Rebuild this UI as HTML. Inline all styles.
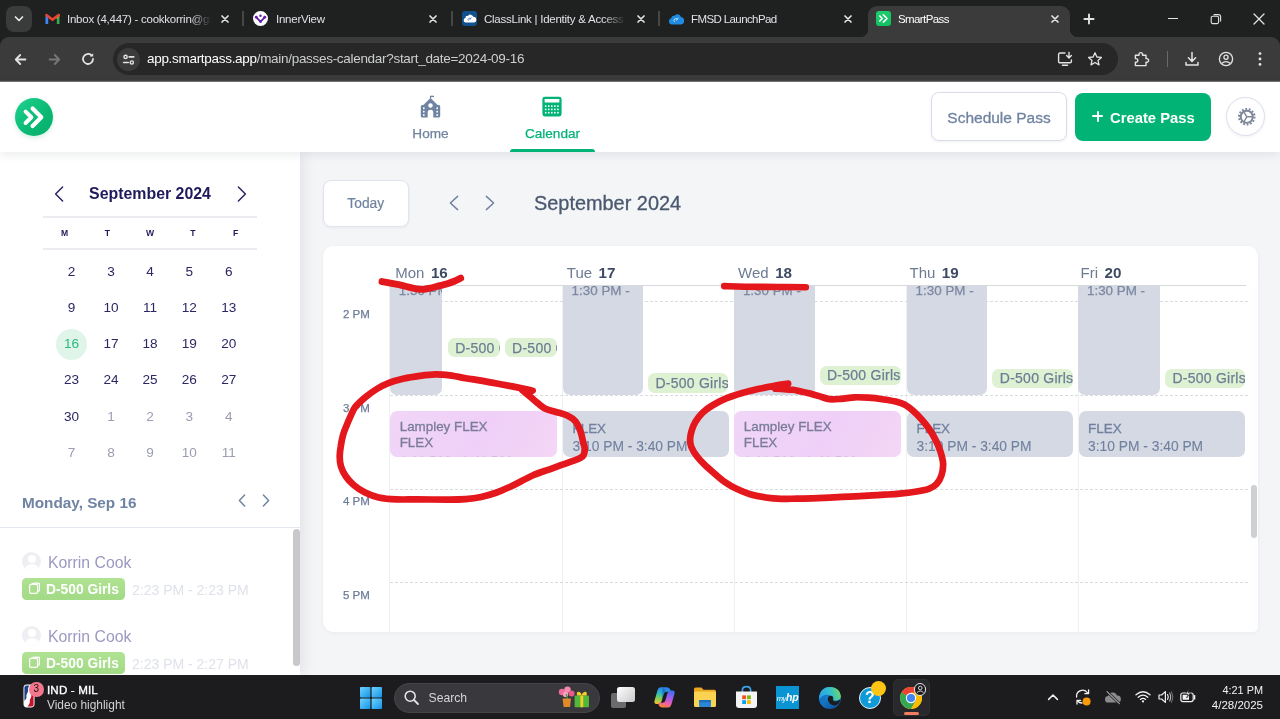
<!DOCTYPE html>
<html lang="en">
<head>
<meta charset="utf-8">
<title>SmartPass</title>
<style>
*{box-sizing:border-box;margin:0;padding:0}
html,body{width:1280px;height:719px;overflow:hidden;background:#f4f5f7;font-family:"Liberation Sans",sans-serif;}
.abs{position:absolute}
#root{position:relative;width:1280px;height:719px;overflow:hidden;will-change:transform;opacity:.9999}
/* ---------- browser chrome ---------- */
#tabbar{left:0;top:0;width:1280px;height:52px;background:#1f2020}
#toolbar{left:0;top:37px;width:1280px;height:44px;background:#3b3b3b;border-radius:9px 9px 0 0}
#urlpill{left:113px;top:43px;width:1005px;height:32px;border-radius:16px;background:#272727}
.tabtxt{color:#dfe1e5;font-size:11.5px;top:13px;white-space:nowrap;letter-spacing:-0.25px}
.url{color:#ffffff;font-size:13.5px;left:147px;top:51px;white-space:nowrap;letter-spacing:-0.3px}
.url span{color:#cdcfce}
/* ---------- app ---------- */
#apphead{left:0;top:81px;width:1280px;height:71px;background:#fff;box-shadow:0 2px 10px rgba(30,40,60,.10);z-index:5}
#sidebar{left:0;top:152px;width:300px;height:523px;background:#fff;box-shadow:2px 0 14px rgba(30,40,60,.10);z-index:3}
#main{left:300px;top:152px;width:980px;height:523px;background:#f4f5f7}
#taskbar{left:0;top:675px;width:1280px;height:44px;background:#1c1c1f;z-index:20}
</style>
</head>
<body>
<div id="root">

<!-- ======= BROWSER CHROME ======= -->
<div id="tabbar" class="abs"></div>
<div id="toolbar" class="abs"></div>
<div id="urlpill" class="abs"></div>
<!-- tab search button -->
<div class="abs" style="left:6px;top:6px;width:26px;height:26px;border-radius:8px;background:#3a3b3b"></div>
<svg class="abs" style="left:13px;top:14px" width="12" height="10" viewBox="0 0 12 10"><path d="M2.5 3 L6 6.5 L9.5 3" fill="none" stroke="#e8eaed" stroke-width="1.7" stroke-linecap="round" stroke-linejoin="round"/></svg>

<!-- tab 1: Gmail -->
<svg class="abs" style="left:45px;top:13px" width="15" height="12" viewBox="0 0 15 12">
  <path d="M0.5 1.2 V11 H3.2 V4.6 Z" fill="#4285f4"/>
  <path d="M14.5 1.2 V11 H11.8 V4.6 Z" fill="#34a853"/>
  <path d="M11.8 4.6 L14.5 1.2 V3 L11.8 6.2Z" fill="#fbbc04"/>
  <path d="M0.5 1.2 L1.6 0.4 L7.5 5 L13.4 0.4 L14.5 1.2 V2.9 L7.5 8.3 L0.5 2.9 Z" fill="#ea4335"/>
</svg>
<div class="abs tabtxt" style="left:67px;width:144px;overflow:hidden;-webkit-mask-image:linear-gradient(90deg,#000 86%,transparent 100%);mask-image:linear-gradient(90deg,#000 86%,transparent 100%)">Inbox (4,447) - cookkorrin@gmail.com</div>
<svg class="abs tabx" style="left:220px;top:14px" width="10" height="10" viewBox="0 0 10 10"><path d="M2 2 L8 8 M8 2 L2 8" stroke="#e3e3e3" stroke-width="1.7" stroke-linecap="round"/></svg>
<div class="abs" style="left:242px;top:11px;width:1.6px;height:15px;background:#474747"></div>

<!-- tab 2: InnerView -->
<div class="abs" style="left:253px;top:11px;width:15px;height:15px;border-radius:50%;background:#fff"></div>
<svg class="abs" style="left:253px;top:11px" width="15" height="15" viewBox="0 0 15 15"><path d="M3.3 6.3 L7.5 10.6 L11.7 6.3" fill="none" stroke="#5b1a9c" stroke-width="1.7" stroke-linejoin="round"/><circle cx="7.5" cy="4.8" r="1.25" fill="#6a1fae"/><circle cx="3.3" cy="6.3" r="1.45" fill="#6a1fae"/><circle cx="11.7" cy="6.3" r="1.45" fill="#6a1fae"/><circle cx="7.5" cy="10.6" r="1.45" fill="#6a1fae"/></svg>
<div class="abs tabtxt" style="left:276px">InnerView</div>
<svg class="abs tabx" style="left:428px;top:14px" width="10" height="10" viewBox="0 0 10 10"><path d="M2 2 L8 8 M8 2 L2 8" stroke="#e3e3e3" stroke-width="1.7" stroke-linecap="round"/></svg>
<div class="abs" style="left:451px;top:11px;width:1.6px;height:15px;background:#474747"></div>

<!-- tab 3: ClassLink -->
<div class="abs" style="left:461.5px;top:11px;width:15px;height:15px;border-radius:3px;background:#10518f"></div>
<svg class="abs" style="left:461.5px;top:11px" width="15" height="15" viewBox="0 0 15 15"><path d="M3.6 11.6 a2.3 2.3 0 0 1 -0.2 -4.5 a2.2 2.2 0 0 1 2.6 -2.2 a2.9 2.9 0 0 1 5.2 0.9 a2.9 2.9 0 0 1 0.4 5.8 Z" fill="#fff"/><path d="M6.4 9.6 a1.5 1.5 0 1 1 2.4 -1.8 M7.6 8.8 L9.4 6.6" fill="none" stroke="#2f6db0" stroke-width="0.8"/></svg>
<div class="abs tabtxt" style="left:484px;width:142px;overflow:hidden;-webkit-mask-image:linear-gradient(90deg,#000 84%,transparent 100%);mask-image:linear-gradient(90deg,#000 84%,transparent 100%)">ClassLink | Identity &amp; Access Management</div>
<svg class="abs tabx" style="left:636px;top:14px" width="10" height="10" viewBox="0 0 10 10"><path d="M2 2 L8 8 M8 2 L2 8" stroke="#e3e3e3" stroke-width="1.7" stroke-linecap="round"/></svg>
<div class="abs" style="left:658px;top:11px;width:1.6px;height:15px;background:#474747"></div>

<!-- tab 4: FMSD -->
<svg class="abs" style="left:668px;top:12px" width="16" height="13" viewBox="0 0 16 13"><path d="M3.6 12.4 a3.1 3.1 0 0 1 -0.3 -6.1 a2.6 2.6 0 0 1 3.1 -2.5 a3.7 3.7 0 0 1 6.6 1.3 a3.7 3.7 0 0 1 0.2 7.3 Z" fill="#1f8ce2"/><path d="M6.4 9.8 a2 2 0 1 1 3.2 -2.4 M8.2 8.6 L10.4 5.8" fill="none" stroke="#d6ebfb" stroke-width="0.9"/></svg>
<div class="abs tabtxt" style="left:691px;letter-spacing:-0.6px">FMSD LaunchPad</div>
<svg class="abs tabx" style="left:843px;top:14px" width="10" height="10" viewBox="0 0 10 10"><path d="M2 2 L8 8 M8 2 L2 8" stroke="#e3e3e3" stroke-width="1.7" stroke-linecap="round"/></svg>

<!-- tab 5 (active): SmartPass -->
<div class="abs" style="left:868px;top:5.5px;width:202px;height:33px;border-radius:9px 9px 0 0;background:#3b3b3b"></div>
<div class="abs" style="left:860px;top:29px;width:8px;height:8px;background:radial-gradient(circle at 0 0,transparent 8px,#3b3b3b 8.5px)"></div>
<div class="abs" style="left:1070px;top:29px;width:8px;height:8px;background:radial-gradient(circle at 100% 0,transparent 8px,#3b3b3b 8.5px)"></div>
<div class="abs" style="left:876px;top:11px;width:15px;height:15px;border-radius:3px;background:linear-gradient(160deg,#1fd071,#0dbd5f)"></div>
<svg class="abs" style="left:876px;top:11px" width="15" height="15" viewBox="0 0 15 15"><path d="M3.8 5 L6.2 7.5 L3.8 10 M7.4 3.9 L11 7.5 L7.4 11.1" fill="none" stroke="#fff" stroke-width="1.7" stroke-linecap="round" stroke-linejoin="round"/></svg>
<div class="abs tabtxt" style="left:898px;color:#fff;letter-spacing:-0.6px">SmartPass</div>
<svg class="abs tabx" style="left:1050px;top:14px" width="10" height="10" viewBox="0 0 10 10"><path d="M2 2 L8 8 M8 2 L2 8" stroke="#e3e3e3" stroke-width="1.7" stroke-linecap="round"/></svg>

<!-- new tab + window controls -->
<svg class="abs" style="left:1083px;top:13px" width="12" height="12" viewBox="0 0 12 12"><path d="M6 1.4 V10.6 M1.4 6 H10.6" stroke="#e3e3e3" stroke-width="1.9" stroke-linecap="round"/></svg>
<div class="abs" style="left:1168px;top:18px;width:10px;height:1.4px;background:#e3e3e3"></div>
<svg class="abs" style="left:1210px;top:13px" width="12" height="12" viewBox="0 0 12 12"><rect x="1.2" y="3.2" width="7.4" height="7.4" rx="1.6" fill="none" stroke="#e3e3e3" stroke-width="1.1"/><path d="M3.6 1.6 H8.6 A2 2 0 0 1 10.6 3.6 V8.6" fill="none" stroke="#e3e3e3" stroke-width="1.1"/></svg>
<svg class="abs" style="left:1253px;top:13px" width="12" height="12" viewBox="0 0 12 12"><path d="M1 1 L11 11 M11 1 L1 11" stroke="#e3e3e3" stroke-width="1.3" stroke-linecap="round"/></svg>

<!-- toolbar: nav icons -->
<svg class="abs" style="left:13px;top:51.5px" width="15" height="15" viewBox="0 0 15 15"><path d="M12.4 7.5 H3 M7.2 3 L2.8 7.5 L7.2 12" fill="none" stroke="#e3e3e3" stroke-width="1.8" stroke-linecap="round" stroke-linejoin="round"/></svg>
<svg class="abs" style="left:47px;top:51.5px" width="15" height="15" viewBox="0 0 15 15"><path d="M2.6 7.5 H12 M7.8 3 L12.2 7.5 L7.8 12" fill="none" stroke="#777" stroke-width="1.8" stroke-linecap="round" stroke-linejoin="round"/></svg>
<svg class="abs" style="left:80px;top:51px" width="16" height="16" viewBox="0 0 16 16"><path d="M13 8 A5 5 0 1 1 11.3 4.2" fill="none" stroke="#e3e3e3" stroke-width="1.8" stroke-linecap="round"/><path d="M13.2 2.2 V5.6 H9.8 Z" fill="#e3e3e3"/></svg>
<!-- site info chip -->
<div class="abs" style="left:117px;top:48px;width:23px;height:23px;border-radius:50%;background:#3b3b3b"></div>
<svg class="abs" style="left:122px;top:52.5px" width="13.4" height="13.4" viewBox="0 0 15 15"><circle cx="4" cy="4.4" r="1.8" fill="none" stroke="#e3e3e3" stroke-width="1.6"/><path d="M8 4.4 H13.2" stroke="#e3e3e3" stroke-width="1.8" stroke-linecap="round"/><circle cx="11" cy="10.6" r="1.8" fill="none" stroke="#e3e3e3" stroke-width="1.6"/><path d="M1.8 10.6 H7" stroke="#e3e3e3" stroke-width="1.8" stroke-linecap="round"/></svg>
<div class="abs url">app.smartpass.app<span>/main/passes-calendar?start_date=2024-09-16</span></div>

<!-- toolbar: right icons -->
<svg class="abs" style="left:1057px;top:51px" width="17" height="16" viewBox="0 0 17 16"><path d="M8 2 H3 A1.4 1.4 0 0 0 1.6 3.4 V10.4 A1.4 1.4 0 0 0 3 11.8 H13 A1.4 1.4 0 0 0 14.4 10.4 V9" fill="none" stroke="#e3e3e3" stroke-width="1.4" stroke-linecap="round"/><path d="M5.4 14.2 H10.6" stroke="#e3e3e3" stroke-width="1.4" stroke-linecap="round"/><path d="M12 1.4 V6.6 M9.6 4.6 L12 7 L14.4 4.6" fill="none" stroke="#e3e3e3" stroke-width="1.4" stroke-linecap="round" stroke-linejoin="round"/></svg>
<svg class="abs" style="left:1087px;top:51px" width="16" height="16" viewBox="0 0 16 16"><path d="M8 1.8 L9.9 6 L14.4 6.4 L11 9.4 L12 13.9 L8 11.5 L4 13.9 L5 9.4 L1.6 6.4 L6.1 6 Z" fill="none" stroke="#e3e3e3" stroke-width="1.3" stroke-linejoin="round"/></svg>
<svg class="abs" style="left:1133px;top:50px" width="17" height="18" viewBox="0 0 17 18"><path d="M2.4 5.2 H6 V4.4 A1.8 1.8 0 1 1 9.6 4.4 V5.2 H13 V8.6 H13.8 A1.8 1.8 0 1 1 13.8 12.2 H13 V15.6 H2.4 V12.2 H3 A1.8 1.8 0 1 0 3 8.6 H2.4 Z" fill="none" stroke="#e3e3e3" stroke-width="1.4" stroke-linejoin="round"/></svg>
<div class="abs" style="left:1167px;top:51px;width:1px;height:16px;background:#6a6a6a"></div>
<svg class="abs" style="left:1184px;top:51px" width="16" height="16" viewBox="0 0 16 16"><path d="M8 1.6 V10 M4.4 6.8 L8 10.4 L11.6 6.8" fill="none" stroke="#e3e3e3" stroke-width="1.5" stroke-linecap="round" stroke-linejoin="round"/><path d="M2 11.4 V14 H14 V11.4" fill="none" stroke="#e3e3e3" stroke-width="1.5" stroke-linecap="round" stroke-linejoin="round"/></svg>
<svg class="abs" style="left:1218px;top:51px" width="16" height="16" viewBox="0 0 16 16"><circle cx="8" cy="8" r="6.6" fill="none" stroke="#e3e3e3" stroke-width="1.3"/><circle cx="8" cy="6.3" r="2.1" fill="none" stroke="#e3e3e3" stroke-width="1.3"/><path d="M3.6 12.6 Q8 8.6 12.4 12.6" fill="none" stroke="#e3e3e3" stroke-width="1.3"/></svg>
<svg class="abs" style="left:1257px;top:51px" width="6" height="16" viewBox="0 0 6 16"><circle cx="3" cy="2.6" r="1.4" fill="#e3e3e3"/><circle cx="3" cy="8" r="1.4" fill="#e3e3e3"/><circle cx="3" cy="13.4" r="1.4" fill="#e3e3e3"/></svg>
<!--CHROME-->

<!-- ======= APP ======= -->
<div id="main" class="abs"></div>
<div id="sidebar" class="abs"></div>
<div id="apphead" class="abs"></div>
<div class="abs" style="left:0;top:80px;width:1280px;height:2px;background:linear-gradient(#2a2a2a,#8a8a8a);z-index:6"></div>
<!-- logo -->
<div class="abs" style="left:15px;top:98px;width:38px;height:38px;border-radius:50%;background:linear-gradient(135deg,#1ed38e 0%,#0ab873 60%,#06b06c 100%);box-shadow:0 2px 5px rgba(0,160,100,.18);z-index:7"></div>
<svg class="abs" style="left:15px;top:98px;z-index:8" width="38" height="38" viewBox="0 0 38 38"><path d="M10.6 13.6 L16.4 19.3 L10.6 25" fill="none" stroke="#fff" stroke-width="4" stroke-linecap="round" stroke-linejoin="round"/><path d="M17.6 10.6 L26.3 19.3 L17.6 28" fill="none" stroke="#fff" stroke-width="4.2" stroke-linecap="round" stroke-linejoin="round"/></svg>

<!-- nav: Home -->
<svg class="abs" style="left:420px;top:95px;z-index:8" width="21" height="24" viewBox="0 0 21 24">
  <path d="M10.5 0.9 V4.4" stroke="#7083a0" stroke-width="1.1"/><path d="M10.5 0.7 H14 V2.1 H10.5Z" fill="#7083a0"/>
  <path d="M10.5 3.3 L17.9 10.6 H3.1 Z" fill="#7083a0" stroke="#7083a0" stroke-width="0.6" stroke-linejoin="round"/>
  <path d="M0.8 11.4 Q0.8 9.9 2.3 9.9 H18.7 Q20.2 9.9 20.2 11.4 V21.2 Q20.2 22.6 18.8 22.6 H13.3 V17.6 A2.8 2.8 0 0 0 7.7 17.6 V22.6 H2.2 Q0.8 22.6 0.8 21.2 Z" fill="#7083a0"/>
  <circle cx="10.5" cy="10.4" r="2.25" fill="#fff"/>
  <rect x="3" y="12.4" width="1.6" height="1.7" fill="#fff"/><rect x="3" y="15.8" width="1.6" height="1.7" fill="#fff"/><rect x="3" y="19.2" width="1.6" height="1.7" fill="#fff"/>
  <rect x="16.4" y="12.4" width="1.6" height="1.7" fill="#fff"/><rect x="16.4" y="15.8" width="1.6" height="1.7" fill="#fff"/><rect x="16.4" y="19.2" width="1.6" height="1.7" fill="#fff"/>
</svg>
<div class="abs" style="left:400px;top:126px;width:61px;text-align:center;font-size:13.6px;color:#7083a0;z-index:8;-webkit-text-stroke:0.25px #7083a0">Home</div>
<!-- nav: Calendar -->
<svg class="abs" style="left:542px;top:96px;z-index:8" width="20" height="21" viewBox="0 0 20 21">
  <rect x="0.4" y="0.8" width="19.2" height="19.6" rx="2.4" fill="#00b476"/>
  <rect x="2.6" y="3" width="14.8" height="3.4" rx="0.6" fill="#fff"/>
  <g fill="#fff"><rect x="2.90" y="9.30" width="1.6" height="1.6"/><rect x="5.95" y="9.30" width="1.6" height="1.6"/><rect x="9.00" y="9.30" width="1.6" height="1.6"/><rect x="12.05" y="9.30" width="1.6" height="1.6"/><rect x="15.10" y="9.30" width="1.6" height="1.6"/><rect x="2.90" y="12.60" width="1.6" height="1.6"/><rect x="5.95" y="12.60" width="1.6" height="1.6"/><rect x="9.00" y="12.60" width="1.6" height="1.6"/><rect x="12.05" y="12.60" width="1.6" height="1.6"/><rect x="15.10" y="12.60" width="1.6" height="1.6"/><rect x="2.90" y="15.90" width="1.6" height="1.6"/><rect x="5.95" y="15.90" width="1.6" height="1.6"/><rect x="9.00" y="15.90" width="1.6" height="1.6"/><rect x="12.05" y="15.90" width="1.6" height="1.6"/><rect x="15.10" y="15.90" width="1.6" height="1.6"/></g>
</svg>
<div class="abs" style="left:512px;top:126px;width:81px;text-align:center;font-size:13.6px;color:#00b476;z-index:8;-webkit-text-stroke:0.25px #00b476">Calendar</div>
<div class="abs" style="left:510px;top:149px;width:85px;height:3px;border-radius:3px 3px 0 0;background:#00b476;z-index:8"></div>

<!-- buttons -->
<div class="abs" style="left:931px;top:92px;width:136px;height:49px;border-radius:8px;background:#fff;border:1px solid #d9dcea;box-shadow:0 1px 3px rgba(40,50,90,.08);z-index:8;color:#7083a0;font-size:15.5px;line-height:49px;text-align:center;-webkit-text-stroke:0.3px #7083a0">Schedule Pass</div>
<div class="abs" style="left:1075px;top:93px;width:136px;height:48px;border-radius:8px;background:#00b476;z-index:8;color:#fff;font-size:14.8px;font-weight:700;line-height:50px;white-space:nowrap"><span style="position:absolute;left:17.2px;top:22.4px;width:11px;height:2px;background:#fff;border-radius:1px"></span><span style="position:absolute;left:21.7px;top:17.9px;width:2px;height:11px;background:#fff;border-radius:1px"></span><span style="position:absolute;left:35px">Create Pass</span></div>
<div class="abs" style="left:1226px;top:97px;width:39px;height:39px;border-radius:50%;background:#fff;border:1px solid #dcdfeb;box-shadow:0 1px 3px rgba(40,50,90,.08);z-index:8"></div>
<svg class="abs" style="left:1236.6px;top:107.1px;z-index:9" width="19.6" height="19.6" viewBox="0 0 21 21">
  <circle cx="10.5" cy="10.5" r="8.3" fill="none" stroke="#7e8699" stroke-width="2.2" stroke-dasharray="1.95 1.775"/>
  <circle cx="10.5" cy="10.5" r="6.5" fill="#fff" stroke="#7e8699" stroke-width="2.1"/>
  <path d="M10.5 10.5 L16.40 10.50 M10.5 10.5 L7.55 15.61 M10.5 10.5 L7.55 5.39 " stroke="#7e8699" stroke-width="1.5" fill="none"/>
</svg>
<!--HEADER-->
<!-- mini calendar -->
<svg class="abs" style="left:53px;top:185px;z-index:4" width="12" height="18" viewBox="0 0 12 18"><path d="M9.6 2 L2.6 9 L9.6 16" fill="none" stroke="#2a2560" stroke-width="1.5" stroke-linecap="round" stroke-linejoin="round"/></svg>
<svg class="abs" style="left:236px;top:185px;z-index:4" width="12" height="18" viewBox="0 0 12 18"><path d="M2.4 2 L9.4 9 L2.4 16" fill="none" stroke="#2a2560" stroke-width="1.5" stroke-linecap="round" stroke-linejoin="round"/></svg>
<div class="abs" style="left:50px;top:184px;width:200px;text-align:center;font-size:15.9px;font-weight:700;color:#1f1a5c;z-index:4;line-height:19px">September 2024</div>
<div class="abs" style="left:43px;top:216px;width:214px;height:1.6px;background:#ececf0;z-index:4"></div>
<div class="abs" style="left:43px;top:248px;width:214px;height:1.6px;background:#ececf0;z-index:4"></div>
<div class="abs" style="left:54.70px;top:227px;width:20px;text-align:center;font-size:8.6px;font-weight:700;color:#1f1a5c;z-index:4;line-height:12px">M</div>
<div class="abs" style="left:97.25px;top:227px;width:20px;text-align:center;font-size:8.6px;font-weight:700;color:#1f1a5c;z-index:4;line-height:12px">T</div>
<div class="abs" style="left:140.00px;top:227px;width:20px;text-align:center;font-size:8.6px;font-weight:700;color:#1f1a5c;z-index:4;line-height:12px">W</div>
<div class="abs" style="left:182.75px;top:227px;width:20px;text-align:center;font-size:8.6px;font-weight:700;color:#1f1a5c;z-index:4;line-height:12px">T</div>
<div class="abs" style="left:225.70px;top:227px;width:20px;text-align:center;font-size:8.6px;font-weight:700;color:#1f1a5c;z-index:4;line-height:12px">F</div>
<div class="abs" style="left:56px;top:328.5px;width:31px;height:31px;border-radius:50%;background:#dff5ea;z-index:4"></div>
<div class="abs" style="left:56.60px;top:262.8px;width:30px;text-align:center;font-size:13.6px;color:#2b2764;z-index:4;line-height:18px">2</div>
<div class="abs" style="left:96.00px;top:262.8px;width:30px;text-align:center;font-size:13.6px;color:#2b2764;z-index:4;line-height:18px">3</div>
<div class="abs" style="left:135.00px;top:262.8px;width:30px;text-align:center;font-size:13.6px;color:#2b2764;z-index:4;line-height:18px">4</div>
<div class="abs" style="left:174.20px;top:262.8px;width:30px;text-align:center;font-size:13.6px;color:#2b2764;z-index:4;line-height:18px">5</div>
<div class="abs" style="left:213.75px;top:262.8px;width:30px;text-align:center;font-size:13.6px;color:#2b2764;z-index:4;line-height:18px">6</div>
<div class="abs" style="left:56.60px;top:299.2px;width:30px;text-align:center;font-size:13.6px;color:#2b2764;z-index:4;line-height:18px">9</div>
<div class="abs" style="left:96.00px;top:299.2px;width:30px;text-align:center;font-size:13.6px;color:#2b2764;z-index:4;line-height:18px">10</div>
<div class="abs" style="left:135.00px;top:299.2px;width:30px;text-align:center;font-size:13.6px;color:#2b2764;z-index:4;line-height:18px">11</div>
<div class="abs" style="left:174.20px;top:299.2px;width:30px;text-align:center;font-size:13.6px;color:#2b2764;z-index:4;line-height:18px">12</div>
<div class="abs" style="left:213.75px;top:299.2px;width:30px;text-align:center;font-size:13.6px;color:#2b2764;z-index:4;line-height:18px">13</div>
<div class="abs" style="left:56.60px;top:334.8px;width:30px;text-align:center;font-size:13.6px;color:#2bb77f;z-index:4;line-height:18px">16</div>
<div class="abs" style="left:96.00px;top:334.8px;width:30px;text-align:center;font-size:13.6px;color:#2b2764;z-index:4;line-height:18px">17</div>
<div class="abs" style="left:135.00px;top:334.8px;width:30px;text-align:center;font-size:13.6px;color:#2b2764;z-index:4;line-height:18px">18</div>
<div class="abs" style="left:174.20px;top:334.8px;width:30px;text-align:center;font-size:13.6px;color:#2b2764;z-index:4;line-height:18px">19</div>
<div class="abs" style="left:213.75px;top:334.8px;width:30px;text-align:center;font-size:13.6px;color:#2b2764;z-index:4;line-height:18px">20</div>
<div class="abs" style="left:56.60px;top:371.3px;width:30px;text-align:center;font-size:13.6px;color:#2b2764;z-index:4;line-height:18px">23</div>
<div class="abs" style="left:96.00px;top:371.3px;width:30px;text-align:center;font-size:13.6px;color:#2b2764;z-index:4;line-height:18px">24</div>
<div class="abs" style="left:135.00px;top:371.3px;width:30px;text-align:center;font-size:13.6px;color:#2b2764;z-index:4;line-height:18px">25</div>
<div class="abs" style="left:174.20px;top:371.3px;width:30px;text-align:center;font-size:13.6px;color:#2b2764;z-index:4;line-height:18px">26</div>
<div class="abs" style="left:213.75px;top:371.3px;width:30px;text-align:center;font-size:13.6px;color:#2b2764;z-index:4;line-height:18px">27</div>
<div class="abs" style="left:56.60px;top:407.8px;width:30px;text-align:center;font-size:13.6px;color:#2b2764;z-index:4;line-height:18px">30</div>
<div class="abs" style="left:96.00px;top:407.8px;width:30px;text-align:center;font-size:13.6px;color:#9a9db3;z-index:4;line-height:18px">1</div>
<div class="abs" style="left:135.00px;top:407.8px;width:30px;text-align:center;font-size:13.6px;color:#9a9db3;z-index:4;line-height:18px">2</div>
<div class="abs" style="left:174.20px;top:407.8px;width:30px;text-align:center;font-size:13.6px;color:#9a9db3;z-index:4;line-height:18px">3</div>
<div class="abs" style="left:213.75px;top:407.8px;width:30px;text-align:center;font-size:13.6px;color:#9a9db3;z-index:4;line-height:18px">4</div>
<div class="abs" style="left:56.60px;top:443.8px;width:30px;text-align:center;font-size:13.6px;color:#9a9db3;z-index:4;line-height:18px">7</div>
<div class="abs" style="left:96.00px;top:443.8px;width:30px;text-align:center;font-size:13.6px;color:#9a9db3;z-index:4;line-height:18px">8</div>
<div class="abs" style="left:135.00px;top:443.8px;width:30px;text-align:center;font-size:13.6px;color:#9a9db3;z-index:4;line-height:18px">9</div>
<div class="abs" style="left:174.20px;top:443.8px;width:30px;text-align:center;font-size:13.6px;color:#9a9db3;z-index:4;line-height:18px">10</div>
<div class="abs" style="left:213.75px;top:443.8px;width:30px;text-align:center;font-size:13.6px;color:#9a9db3;z-index:4;line-height:18px">11</div>
<!-- day list -->
<div class="abs" style="left:22px;top:493px;font-size:15.3px;font-weight:700;color:#6f83a3;z-index:4;line-height:19px;white-space:nowrap">Monday, Sep 16</div>
<svg class="abs" style="left:237px;top:493px;z-index:4" width="10" height="15" viewBox="0 0 10 15"><path d="M7.6 2 L2.4 7.5 L7.6 13" fill="none" stroke="#7083a0" stroke-width="1.5" stroke-linecap="round" stroke-linejoin="round"/></svg>
<svg class="abs" style="left:261px;top:493px;z-index:4" width="10" height="15" viewBox="0 0 10 15"><path d="M2.4 2 L7.6 7.5 L2.4 13" fill="none" stroke="#7083a0" stroke-width="1.5" stroke-linecap="round" stroke-linejoin="round"/></svg>
<div class="abs" style="left:0;top:527px;width:300px;height:1px;background:#e1e6ef;z-index:4"></div>
<div class="abs" style="left:293px;top:529px;width:6.5px;height:137px;border-radius:4px;background:#c8c8c9;z-index:4"></div>
<div class="abs" style="left:22px;top:552px;width:19px;height:19px;border-radius:50%;background:#efeff3;z-index:4;overflow:hidden"><div style="position:absolute;left:5.5px;top:3px;width:8px;height:8px;border-radius:50%;background:#fff"></div><div style="position:absolute;left:2.5px;top:11.5px;width:14px;height:12px;border-radius:50%;background:#fff"></div></div>
<div class="abs" style="left:48px;top:553px;font-size:15.8px;color:#9b99c1;z-index:4;line-height:19px;white-space:nowrap">Korrin Cook</div>
<div class="abs" style="left:22px;top:578px;width:103px;height:22px;border-radius:4.5px;background:linear-gradient(#b0e293,#a2da85);z-index:4"></div>
<svg class="abs" style="left:28px;top:582px;z-index:4" width="13" height="13" viewBox="0 0 13 13"><rect x="1.6" y="2.4" width="8" height="9" rx="1.6" fill="none" stroke="#fff" stroke-width="1.2"/><path d="M3 2.4 Q6 0.6 11.4 1.4 V8 Q11.4 9.4 9.6 9.6" fill="none" stroke="#fff" stroke-width="1.2"/></svg>
<div class="abs" style="left:46px;top:581px;font-size:13.8px;font-weight:700;color:#fff;z-index:4;line-height:18px;white-space:nowrap">D-500 Girls</div>
<div class="abs" style="left:132px;top:581px;font-size:14px;color:#dfe2ea;z-index:4;line-height:18px;white-space:nowrap">2:23 PM - 2:23 PM</div>
<div class="abs" style="left:22px;top:626px;width:19px;height:19px;border-radius:50%;background:#efeff3;z-index:4;overflow:hidden"><div style="position:absolute;left:5.5px;top:3px;width:8px;height:8px;border-radius:50%;background:#fff"></div><div style="position:absolute;left:2.5px;top:11.5px;width:14px;height:12px;border-radius:50%;background:#fff"></div></div>
<div class="abs" style="left:48px;top:627px;font-size:15.8px;color:#9b99c1;z-index:4;line-height:19px;white-space:nowrap">Korrin Cook</div>
<div class="abs" style="left:22px;top:652px;width:103px;height:22px;border-radius:4.5px;background:linear-gradient(#b0e293,#a2da85);z-index:4"></div>
<svg class="abs" style="left:28px;top:656px;z-index:4" width="13" height="13" viewBox="0 0 13 13"><rect x="1.6" y="2.4" width="8" height="9" rx="1.6" fill="none" stroke="#fff" stroke-width="1.2"/><path d="M3 2.4 Q6 0.6 11.4 1.4 V8 Q11.4 9.4 9.6 9.6" fill="none" stroke="#fff" stroke-width="1.2"/></svg>
<div class="abs" style="left:46px;top:655px;font-size:13.8px;font-weight:700;color:#fff;z-index:4;line-height:18px;white-space:nowrap">D-500 Girls</div>
<div class="abs" style="left:132px;top:655px;font-size:14px;color:#dfe2ea;z-index:4;line-height:18px;white-space:nowrap">2:23 PM - 2:27 PM</div>
<!--SIDEBAR-->
<!-- main toolbar -->
<div class="abs" style="left:323px;top:179.5px;width:85.5px;height:47px;border-radius:8px;background:#fff;border:1px solid #e1e4ee;box-shadow:0 1px 3px rgba(40,50,90,.06);color:#7083a0;font-size:13.8px;line-height:45px;text-align:center;-webkit-text-stroke:0.2px #7083a0">Today</div>
<svg class="abs" style="left:447px;top:194px" width="14" height="18" viewBox="0 0 14 18"><path d="M10.6 2.4 L3.4 9 L10.6 15.6" fill="none" stroke="#7083a0" stroke-width="1.5" stroke-linecap="round" stroke-linejoin="round"/></svg>
<svg class="abs" style="left:483px;top:194px" width="14" height="18" viewBox="0 0 14 18"><path d="M3.4 2.4 L10.6 9 L3.4 15.6" fill="none" stroke="#7083a0" stroke-width="1.5" stroke-linecap="round" stroke-linejoin="round"/></svg>
<div class="abs" style="left:534px;top:191px;font-size:19.9px;color:#4a586f;line-height:24px;white-space:nowrap;-webkit-text-stroke:0.3px #4a586f">September 2024</div>
<!-- calendar card -->
<div class="abs" id="card" style="left:323px;top:246px;width:934.5px;height:386px;border-radius:11px 11px 5px 11px;background:#fff;box-shadow:0 1px 4px rgba(30,40,60,.05);overflow:hidden">
<div class="abs" style="left:66px;top:40px;width:1px;height:346px;background:#eff0f2"></div>
<div class="abs" style="left:239px;top:40px;width:1px;height:346px;background:#eff0f2"></div>
<div class="abs" style="left:411px;top:40px;width:1px;height:346px;background:#eff0f2"></div>
<div class="abs" style="left:583px;top:40px;width:1px;height:346px;background:#eff0f2"></div>
<div class="abs" style="left:755px;top:40px;width:1px;height:346px;background:#eff0f2"></div>
<div class="abs" style="left:927px;top:40px;width:8px;height:346px;background:#fefefe"></div>
<div class="abs" style="left:67px;top:55px;width:860px;height:1px;background:repeating-linear-gradient(90deg,#d9dbde 0 3px,transparent 3px 5px)"></div>
<div class="abs" style="left:67px;top:149px;width:860px;height:1px;background:repeating-linear-gradient(90deg,#d9dbde 0 3px,transparent 3px 5px)"></div>
<div class="abs" style="left:67px;top:242.5px;width:860px;height:1px;background:repeating-linear-gradient(90deg,#d9dbde 0 3px,transparent 3px 5px)"></div>
<div class="abs" style="left:67px;top:336px;width:860px;height:1px;background:repeating-linear-gradient(90deg,#d9dbde 0 3px,transparent 3px 5px)"></div>
<div class="abs" style="left:20px;top:61px;font-size:11.5px;color:#6b7c98;line-height:14px;white-space:nowrap;-webkit-text-stroke:0.25px #6b7c98">2 PM</div>
<div class="abs" style="left:20px;top:154.5px;font-size:11.5px;color:#6b7c98;line-height:14px;white-space:nowrap;-webkit-text-stroke:0.25px #6b7c98">3 PM</div>
<div class="abs" style="left:20px;top:248px;font-size:11.5px;color:#6b7c98;line-height:14px;white-space:nowrap;-webkit-text-stroke:0.25px #6b7c98">4 PM</div>
<div class="abs" style="left:20px;top:341.8px;font-size:11.5px;color:#6b7c98;line-height:14px;white-space:nowrap;-webkit-text-stroke:0.25px #6b7c98">5 PM</div>
<div class="abs" style="left:67.2px;top:24px;width:52.2px;height:125px;border-radius:7px;background:#d5d9e3;overflow:hidden"><div style="position:absolute;left:8.6px;top:13px;font-size:13.4px;color:#7c88a1;line-height:16px;white-space:nowrap;-webkit-text-stroke:0.25px #7c88a1">1:30 PM -</div></div>
<div class="abs" style="left:240px;top:24px;width:80.2px;height:125px;border-radius:7px;background:#d5d9e3;overflow:hidden"><div style="position:absolute;left:8.6px;top:13px;font-size:13.4px;color:#7c88a1;line-height:16px;white-space:nowrap;-webkit-text-stroke:0.25px #7c88a1">1:30 PM -</div></div>
<div class="abs" style="left:411.3px;top:24px;width:80.7px;height:125px;border-radius:7px;background:#d5d9e3;overflow:hidden"><div style="position:absolute;left:8.6px;top:13px;font-size:13.4px;color:#7c88a1;line-height:16px;white-space:nowrap;-webkit-text-stroke:0.25px #7c88a1">1:30 PM -</div></div>
<div class="abs" style="left:584px;top:24px;width:80.3px;height:125px;border-radius:7px;background:#d5d9e3;overflow:hidden"><div style="position:absolute;left:8.6px;top:13px;font-size:13.4px;color:#7c88a1;line-height:16px;white-space:nowrap;-webkit-text-stroke:0.25px #7c88a1">1:30 PM -</div></div>
<div class="abs" style="left:755.4px;top:24px;width:81.3px;height:125px;border-radius:7px;background:#d5d9e3;overflow:hidden"><div style="position:absolute;left:8.6px;top:13px;font-size:13.4px;color:#7c88a1;line-height:16px;white-space:nowrap;-webkit-text-stroke:0.25px #7c88a1">1:30 PM -</div></div>
<div class="abs" style="left:124.7px;top:91.6px;width:51.9px;height:19.6px;border-radius:6.5px;background:#dff1d3;overflow:hidden"><div style="position:absolute;left:7.5px;top:0;font-size:14px;color:#6c7e95;line-height:20.1px;white-space:nowrap;letter-spacing:0.25px;-webkit-text-stroke:0.25px #6c7e95">D-500 Girls</div></div>
<div class="abs" style="left:181.6px;top:91.6px;width:52.3px;height:19.6px;border-radius:6.5px;background:#dff1d3;overflow:hidden"><div style="position:absolute;left:7.5px;top:0;font-size:14px;color:#6c7e95;line-height:20.1px;white-space:nowrap;letter-spacing:0.25px;-webkit-text-stroke:0.25px #6c7e95">D-500 Girls</div></div>
<div class="abs" style="left:324.9px;top:127.3px;width:80.5px;height:19.5px;border-radius:6.5px;background:#dff1d3;overflow:hidden"><div style="position:absolute;left:7.5px;top:0;font-size:14px;color:#6c7e95;line-height:20.0px;white-space:nowrap;letter-spacing:0.25px;-webkit-text-stroke:0.25px #6c7e95">D-500 Girls</div></div>
<div class="abs" style="left:496.5px;top:120.2px;width:81.3px;height:19.2px;border-radius:6.5px;background:#dff1d3;overflow:hidden"><div style="position:absolute;left:7.5px;top:0;font-size:14px;color:#6c7e95;line-height:19.7px;white-space:nowrap;letter-spacing:0.25px;-webkit-text-stroke:0.25px #6c7e95">D-500 Girls</div></div>
<div class="abs" style="left:669.3px;top:122.7px;width:80.4px;height:18.9px;border-radius:6.5px;background:#dff1d3;overflow:hidden"><div style="position:absolute;left:7.5px;top:0;font-size:14px;color:#6c7e95;line-height:19.4px;white-space:nowrap;letter-spacing:0.25px;-webkit-text-stroke:0.25px #6c7e95">D-500 Girls</div></div>
<div class="abs" style="left:841.9px;top:122.7px;width:80.4px;height:18.9px;border-radius:6.5px;background:#dff1d3;overflow:hidden"><div style="position:absolute;left:7.5px;top:0;font-size:14px;color:#6c7e95;line-height:19.4px;white-space:nowrap;letter-spacing:0.25px;-webkit-text-stroke:0.25px #6c7e95">D-500 Girls</div></div>
<div class="abs" style="left:67.2px;top:164.8px;width:166.8px;height:46.3px;border-radius:7px;background:linear-gradient(120deg,#f1d6f8 0%,#efcff7 55%,#f4d6f6 100%);overflow:hidden"><div style="position:absolute;left:9.5px;top:8px;font-size:13.4px;color:#7a7c9a;line-height:16px;white-space:nowrap;-webkit-text-stroke:0.3px #7a7c9a">Lampley FLEX<br>FLEX<br><span style="position:relative;top:3.2px">3:10 PM - 3:40 PM</span></div></div>
<div class="abs" style="left:240px;top:164.8px;width:165.6px;height:46.3px;border-radius:7px;background:#d5d9e3;overflow:hidden"><div style="position:absolute;left:9.5px;top:9.5px;font-size:13.4px;color:#7181a0;line-height:18px;white-space:nowrap;-webkit-text-stroke:0.3px #7181a0">FLEX<br><span style="font-size:13.8px;-webkit-text-stroke:0.1px #7181a0">3:10 PM - 3:40 PM</span></div></div>
<div class="abs" style="left:411.3px;top:164.8px;width:167.1px;height:46.3px;border-radius:7px;background:linear-gradient(120deg,#f1d6f8 0%,#efcff7 55%,#f4d6f6 100%);overflow:hidden"><div style="position:absolute;left:9.5px;top:8px;font-size:13.4px;color:#7a7c9a;line-height:16px;white-space:nowrap;-webkit-text-stroke:0.3px #7a7c9a">Lampley FLEX<br>FLEX<br><span style="position:relative;top:3.2px">3:10 PM - 3:40 PM</span></div></div>
<div class="abs" style="left:584px;top:164.8px;width:165.8px;height:46.3px;border-radius:7px;background:#d5d9e3;overflow:hidden"><div style="position:absolute;left:9.5px;top:9.5px;font-size:13.4px;color:#7181a0;line-height:18px;white-space:nowrap;-webkit-text-stroke:0.3px #7181a0">FLEX<br><span style="font-size:13.8px;-webkit-text-stroke:0.1px #7181a0">3:10 PM - 3:40 PM</span></div></div>
<div class="abs" style="left:755.6px;top:164.8px;width:166.8px;height:46.3px;border-radius:7px;background:#d5d9e3;overflow:hidden"><div style="position:absolute;left:9.5px;top:9.5px;font-size:13.4px;color:#7181a0;line-height:18px;white-space:nowrap;-webkit-text-stroke:0.3px #7181a0">FLEX<br><span style="font-size:13.8px;-webkit-text-stroke:0.1px #7181a0">3:10 PM - 3:40 PM</span></div></div>
<div class="abs" style="left:0;top:0;width:934.5px;height:39.3px;background:#fff"></div>
<div class="abs" style="left:67px;top:39px;width:856px;height:1.3px;background:#d8d9dc"></div>
<div class="abs" style="left:72.2px;top:18px;font-size:15px;color:#6d7c93;line-height:18px;white-space:nowrap">Mon<span style="font-weight:700;color:#3d4a63;margin-left:6.5px;font-size:15.2px">16</span></div>
<div class="abs" style="left:243.8px;top:18px;font-size:15px;color:#6d7c93;line-height:18px;white-space:nowrap">Tue<span style="font-weight:700;color:#3d4a63;margin-left:6.5px;font-size:15.2px">17</span></div>
<div class="abs" style="left:415.1px;top:18px;font-size:15px;color:#6d7c93;line-height:18px;white-space:nowrap">Wed<span style="font-weight:700;color:#3d4a63;margin-left:6.5px;font-size:15.2px">18</span></div>
<div class="abs" style="left:586.5px;top:18px;font-size:15px;color:#6d7c93;line-height:18px;white-space:nowrap">Thu<span style="font-weight:700;color:#3d4a63;margin-left:6.5px;font-size:15.2px">19</span></div>
<div class="abs" style="left:757.5px;top:18px;font-size:15px;color:#6d7c93;line-height:18px;white-space:nowrap">Fri<span style="font-weight:700;color:#3d4a63;margin-left:6.5px;font-size:15.2px">20</span></div>
<div class="abs" style="left:927.8px;top:239px;width:6.5px;height:53px;border-radius:4px;background:#cfd0d1"></div>
</div>
<!--CALENDAR-->
<svg class="abs" style="left:0;top:0;z-index:15;pointer-events:none" width="1280" height="719" viewBox="0 0 1280 719" fill="none" stroke="#e3171c" stroke-linecap="round" stroke-linejoin="round">
  <!-- underline Mon 16 -->
  <path d="M382.0 281.6 C383.6 281.9 388.4 282.8 391.5 283.4 C394.6 284.0 398.0 284.5 400.9 285.1 C403.8 285.7 406.1 286.6 408.7 287.2 C411.3 287.8 414.0 288.5 416.4 288.9 C418.8 289.3 421.0 289.5 423.3 289.4 C425.6 289.3 427.6 288.7 430.2 288.1 C432.8 287.5 435.9 286.6 438.8 285.9 C441.7 285.2 444.7 284.6 447.3 283.8 C449.9 283.0 452.0 282.1 454.2 281.2 C456.4 280.3 459.6 278.7 460.7 278.2" stroke-width="6.9"/>
  <!-- underline Wed 18 -->
  <path d="M724.2 286.1 C727.6 286.2 735.3 286.7 744.4 286.8 C753.5 286.9 768.6 286.9 778.8 287.0 C789.0 287.1 801.3 287.2 805.8 287.2" stroke-width="6.6"/>
  <!-- loop 1 -->
  <path d="M532.7 390.7 C531.2 390.4 527.4 389.4 524.0 388.7 C520.6 388.0 516.8 387.3 512.3 386.4 C507.7 385.5 501.9 384.5 496.7 383.5 C491.5 382.5 486.3 381.5 481.1 380.6 C475.9 379.7 470.8 379.1 465.6 378.2 C460.4 377.3 455.1 376.0 450.0 375.4 C444.9 374.8 440.2 374.3 435.2 374.4 C430.2 374.5 425.1 375.2 419.9 375.9 C414.7 376.6 409.2 377.4 404.0 378.6 C398.8 379.8 392.9 381.4 388.4 383.1 C383.9 384.8 380.6 386.7 376.8 389.0 C373.0 391.3 369.1 394.1 365.5 397.1 C361.9 400.1 357.8 403.8 355.3 406.9 C352.9 410.0 352.2 412.6 350.8 415.7 C349.4 418.8 347.9 422.2 346.6 425.4 C345.3 428.6 344.0 431.5 343.0 435.1 C342.0 438.7 341.2 443.2 340.7 446.8 C340.1 450.4 339.7 453.4 339.7 456.6 C339.7 459.9 339.9 463.1 340.9 466.3 C341.9 469.5 343.5 472.9 345.6 476.0 C347.7 479.1 350.1 482.0 353.4 484.8 C356.6 487.6 360.9 490.5 365.1 492.6 C369.3 494.7 373.5 496.4 378.7 497.5 C383.9 498.6 389.7 499.1 396.2 499.4 C402.7 499.7 408.7 499.4 417.7 499.4 C426.7 499.4 442.0 499.7 450.0 499.6 C458.0 499.6 460.4 499.5 465.6 499.1 C470.8 498.7 475.9 498.1 481.1 497.0 C486.3 495.9 491.8 494.2 496.7 492.5 C501.6 490.8 506.1 488.6 510.3 486.7 C514.5 484.8 518.1 482.8 522.0 480.8 C525.9 478.9 529.5 476.8 533.7 475.0 C537.9 473.2 542.8 471.7 547.3 470.1 C551.8 468.5 556.3 466.8 560.9 465.2 C565.5 463.6 571.4 461.6 574.6 460.4 C577.9 459.2 578.9 458.8 580.4 457.9 C581.9 457.0 582.9 456.5 583.6 455.0 C584.3 453.5 584.8 450.7 584.7 448.7 C584.7 446.7 584.0 445.8 583.3 442.9 C582.6 440.0 581.7 434.8 580.4 431.2 C579.1 427.6 577.8 424.1 575.5 421.4 C573.2 418.7 570.2 416.8 566.8 415.2 C563.4 413.6 558.7 412.8 555.1 411.7 C551.5 410.6 548.3 410.2 545.4 408.8 C542.5 407.4 540.0 404.9 537.6 403.0 C535.2 401.1 532.9 398.9 530.8 397.1 C528.7 395.3 526.4 393.5 524.9 392.3 C523.4 391.1 522.5 390.3 522.0 389.9" stroke-width="6.7"/>
  <!-- loop 2 -->
  <path d="M788.1 383.6 C785.7 384.0 778.5 385.1 773.5 386.0 C768.5 386.9 763.1 387.9 757.9 389.1 C752.7 390.3 747.5 391.5 742.3 393.0 C737.1 394.5 731.6 396.2 726.7 398.2 C721.8 400.2 717.2 402.6 713.1 405.0 C709.0 407.4 705.3 410.0 702.4 412.8 C699.5 415.6 697.4 418.7 695.6 421.6 C693.8 424.5 692.6 427.5 691.7 430.4 C690.8 433.3 690.2 436.4 690.1 439.1 C690.0 441.9 690.2 444.1 691.3 446.9 C692.4 449.7 694.3 452.8 696.5 455.7 C698.7 458.6 701.4 461.5 704.3 464.4 C707.2 467.3 710.7 470.3 714.1 473.2 C717.5 476.1 721.1 479.4 724.8 482.0 C728.5 484.6 732.3 486.8 736.5 488.8 C740.7 490.8 745.2 492.8 750.1 494.2 C755.0 495.6 760.5 496.7 765.7 497.5 C770.9 498.3 776.0 498.7 781.2 498.9 C786.4 499.1 791.7 498.7 796.8 498.6 C801.9 498.5 806.5 498.6 812.0 498.4 C817.5 498.2 823.3 497.9 829.5 497.6 C835.7 497.3 842.5 496.9 849.0 496.6 C855.5 496.3 862.6 496.0 868.4 495.7 C874.2 495.4 878.8 495.0 884.0 494.7 C889.2 494.4 894.4 494.2 899.6 493.7 C904.8 493.2 910.3 492.6 915.2 491.8 C920.1 491.0 925.2 490.1 928.8 488.8 C932.4 487.5 934.5 486.3 936.6 484.0 C938.7 481.7 940.4 478.6 941.5 475.2 C942.6 471.8 943.3 467.4 943.1 463.5 C942.9 459.6 941.7 455.7 940.5 451.8 C939.3 447.9 937.7 444.0 935.7 440.1 C933.8 436.2 931.2 432.0 928.8 428.4 C926.3 424.8 923.6 421.6 921.0 418.7 C918.4 415.8 915.9 413.2 913.3 410.9 C910.7 408.6 908.4 406.7 905.5 405.1 C902.6 403.6 899.6 402.6 895.7 401.6 C891.8 400.6 886.7 399.9 882.1 399.2 C877.5 398.5 873.0 398.0 868.4 397.7 C863.8 397.4 859.3 397.1 854.8 397.3 C850.3 397.5 845.4 398.5 841.2 398.8 C837.0 399.1 833.0 399.6 829.5 399.2 C826.0 398.8 823.2 397.3 820.0 396.4 C816.8 395.5 813.3 394.5 810.0 393.6 C806.7 392.7 802.9 391.8 800.0 391.2 C797.1 390.6 796.0 390.2 792.9 389.8 C789.8 389.4 784.1 389.1 781.2 388.9 C778.3 388.7 776.4 388.7 775.4 388.7" stroke-width="6.7"/>
</svg>
<!--ANNOT-->

<!-- ======= TASKBAR ======= -->
<div id="taskbar" class="abs"></div>
<!-- widgets -->
<svg class="abs" style="left:23px;top:684px;z-index:21" width="12" height="24" viewBox="0 0 12 24"><rect x="0.5" y="0.5" width="11" height="23" rx="3.4" fill="#fff"/><path d="M1.4 3.6 Q1.4 1.4 3.6 1.4 H6.2 Q4.4 4 5 7.6 Q3 10.6 3.4 14.2 L1.4 17 Z" fill="#1d428a"/><path d="M10.6 20.4 Q10.6 22.6 8.4 22.6 H4.4 Q7.4 19.6 6.8 16 Q8.8 13.4 8.4 9.4 Q9.4 6 8 1.4 Q10.6 1.6 10.6 3.6 Z" fill="#c8102e"/></svg>
<div class="abs" style="left:29px;top:682px;width:14.5px;height:14.5px;border-radius:50%;background:#f3788e;z-index:22;color:#2a0a12;font-size:10px;line-height:14.5px;text-align:center">3</div>
<div class="abs" style="left:47px;top:683px;z-index:21;font-size:11.6px;color:#fff;line-height:14px;white-space:nowrap;-webkit-text-stroke:0.35px #fff;letter-spacing:0.15px">IND - MIL</div>
<div class="abs" style="left:47px;top:698px;z-index:21;font-size:11.9px;color:#d2d2d4;line-height:14px;white-space:nowrap">Video highlight</div>

<!-- start -->
<svg class="abs" style="left:360px;top:687px;z-index:21" width="22" height="22" viewBox="0 0 22 22"><defs><linearGradient id="wg" x1="0" y1="0" x2="1" y2="1"><stop offset="0" stop-color="#6fd3ff"/><stop offset="1" stop-color="#1493e6"/></linearGradient></defs><rect x="0" y="0" width="10.4" height="10.4" rx="0.8" fill="url(#wg)"/><rect x="11.6" y="0" width="10.4" height="10.4" rx="0.8" fill="url(#wg)"/><rect x="0" y="11.6" width="10.4" height="10.4" rx="0.8" fill="url(#wg)"/><rect x="11.6" y="11.6" width="10.4" height="10.4" rx="0.8" fill="url(#wg)"/></svg>
<!-- search -->
<div class="abs" style="left:394px;top:682.5px;width:206px;height:30px;border-radius:15px;background:#39393d;border:1px solid #47474b;z-index:21"></div>
<svg class="abs" style="left:403px;top:689px;z-index:22" width="17" height="17" viewBox="0 0 17 17"><circle cx="7.2" cy="7.2" r="5" fill="none" stroke="#e4e4e4" stroke-width="1.6"/><path d="M11 11 L15 15" stroke="#e4e4e4" stroke-width="1.8" stroke-linecap="round"/></svg>
<div class="abs" style="left:428.5px;top:691px;z-index:22;font-size:12.2px;color:#d6d6d6;line-height:15px;white-space:nowrap">Search</div>
<svg class="abs" style="left:557px;top:686px;z-index:22" width="34" height="22" viewBox="0 0 34 22">
  <circle cx="5" cy="6" r="3.2" fill="#f06a9a"/><circle cx="10.5" cy="3.6" r="3.2" fill="#f58ab0"/><circle cx="14.6" cy="7.6" r="3" fill="#e85a8c"/><circle cx="8.6" cy="8.4" r="2.6" fill="#f9a3c0"/>
  <path d="M9.4 8 L10 13" stroke="#3f9d3a" stroke-width="1.4"/>
  <path d="M5.6 12.6 H14 L13 21 H6.6 Z" fill="#e08a2a"/>
  <rect x="17.6" y="9.6" width="14.4" height="11.6" rx="1" fill="#53b83a"/><rect x="23.4" y="9.6" width="2.8" height="11.6" fill="#f2d027"/><path d="M20 9.6 Q19 5 22.6 6 Q24.8 7 24.8 9.6 Q24.8 7 27 6 Q30.6 5 29.6 9.6Z" fill="#f2d027"/>
</svg>
<!-- task view -->
<div class="abs" style="left:611px;top:693px;width:15px;height:15px;border-radius:2px;background:#6b6b6d;z-index:21"></div>
<div class="abs" style="left:617px;top:687px;width:17.5px;height:15px;border-radius:2.5px;background:linear-gradient(135deg,#ffffff,#c9c9cb);z-index:22"></div>
<!-- copilot -->
<svg class="abs" style="left:653px;top:686px;z-index:21" width="23" height="23" viewBox="0 0 23 23"><defs><linearGradient id="cpL" x1="0.4" y1="0" x2="0.2" y2="1"><stop offset="0" stop-color="#2a7fe8"/><stop offset=".35" stop-color="#27b7c9"/><stop offset=".65" stop-color="#7ccf5a"/><stop offset="1" stop-color="#f4c531"/></linearGradient><linearGradient id="cpR" x1="0.7" y1="0" x2="0.4" y2="1"><stop offset="0" stop-color="#3d6ff0"/><stop offset=".4" stop-color="#a05cf0"/><stop offset=".75" stop-color="#ee5fa8"/><stop offset="1" stop-color="#f5823c"/></linearGradient></defs>
<path d="M7.6 1.2 H14 Q16.6 1.2 17.4 3.8 L18 5.8 H13.6 Q11.4 5.8 10.6 8.2 L8.4 15.8 Q7.6 18 5.4 18 H3.6 Q0.6 18 1.6 14.6 L4.6 4 Q5.4 1.2 7.6 1.2Z" fill="url(#cpL)"/>
<path d="M15.4 21.4 H9 Q6.4 21.4 5.6 18.8 L5 16.8 H9.4 Q11.6 16.8 12.4 14.4 L14.6 6.8 Q15.4 4.6 17.6 4.6 H19.4 Q22.4 4.6 21.4 8 L18.4 18.6 Q17.6 21.4 15.4 21.4Z" fill="url(#cpR)"/>
<path d="M9.6 2 Q12 2.6 12.8 5.4 L13 6 Q11.2 6.4 10.6 8.2 L9.2 13 Z" fill="#1a4fc0" opacity=".55"/></svg>
<!-- explorer -->
<svg class="abs" style="left:693px;top:686px;z-index:21" width="24" height="22" viewBox="0 0 24 22"><path d="M1 3 Q1 1.4 2.6 1.4 H8.4 L10.6 3.8 H21.4 Q23 3.8 23 5.4 V8 H1 Z" fill="#e9a820"/><rect x="1" y="5.4" width="22" height="15.6" rx="1.6" fill="#fbd352"/><rect x="6" y="14" width="12" height="7" rx="1.2" fill="#2a86d8"/><rect x="6" y="14" width="12" height="2.2" rx="1" fill="#1a6fc0"/></svg>
<!-- store -->
<svg class="abs" style="left:735px;top:685px;z-index:21" width="23" height="24" viewBox="0 0 23 24"><path d="M7.4 7 V5 Q7.4 1.6 11.5 1.6 Q15.6 1.6 15.6 5 V7" fill="none" stroke="#3aa0e8" stroke-width="1.7"/><path d="M1 6.6 H22 V20 Q22 23 19 23 H4 Q1 23 1 20 Z" fill="#f4f4f4"/><rect x="7.2" y="10.4" width="3.8" height="3.8" fill="#f25022"/><rect x="12" y="10.4" width="3.8" height="3.8" fill="#7fba00"/><rect x="7.2" y="15.2" width="3.8" height="3.8" fill="#00a4ef"/><rect x="12" y="15.2" width="3.8" height="3.8" fill="#ffb900"/></svg>
<!-- myHP -->
<div class="abs" style="left:776px;top:686px;width:23px;height:23px;background:#0a94d4;z-index:21;color:#fff;font-size:7.5px;line-height:23px;text-align:center;font-style:italic;white-space:nowrap;letter-spacing:-0.3px">my<b style="font-size:10.5px">hp</b></div>
<!-- edge -->
<svg class="abs" style="left:817.5px;top:685.5px;z-index:21" width="24" height="24" viewBox="0 0 24 24"><defs><linearGradient id="eg1" x1="0.2" y1="0.2" x2="0.8" y2="1"><stop offset="0" stop-color="#1b8fdc"/><stop offset="1" stop-color="#0c4f9a"/></linearGradient><linearGradient id="eg2" x1="0" y1="0.5" x2="1" y2="0.3"><stop offset="0" stop-color="#2aa4e6"/><stop offset=".55" stop-color="#35c1c8"/><stop offset="1" stop-color="#74d957"/></linearGradient></defs>
<circle cx="12" cy="12" r="11" fill="url(#eg1)"/>
<path d="M1.2 10.6 Q2.6 1 12.4 1 Q21.8 1.4 22.9 10 Q23 14.4 17.6 14.6 H13.4 Q14.6 9.2 9.6 8.8 Q4.2 8.8 1.2 13.4Z" fill="url(#eg2)"/>
<path d="M9.8 13.6 Q9.6 10 12.8 9.8 Q15.8 10 15.2 13 Q14.6 15.2 17.6 15.4 Q20.8 15.4 22.4 13.6 Q21.6 18.6 17 19.4 Q11 19.6 9.8 13.6Z" fill="#1c1c1f"/>
<path d="M9.6 8.8 Q4.2 8.8 1.2 13.4 Q2 20 8.6 22.4 Q5.4 19 6 14.6 Q6.6 10.6 9.6 8.8Z" fill="#1373c4" opacity=".8"/></svg>
<!-- help -->
<div class="abs" style="left:859px;top:687px;width:22px;height:22px;border-radius:50%;background:#0f9ad8;border:1.6px solid #eaf4fc;z-index:21;color:#fff;font-size:16px;font-weight:700;line-height:19px;text-align:center">?</div>
<div class="abs" style="left:871.3px;top:681.3px;width:15px;height:15px;border-radius:50%;background:#fdc315;z-index:22"></div>
<!-- chrome (active) -->
<div class="abs" style="left:893px;top:679px;width:36.5px;height:36.5px;border-radius:5px;background:#29292d;border:1px solid #303034;z-index:21"></div>
<svg class="abs" style="left:899px;top:686px;z-index:22" width="24" height="24" viewBox="0 0 24 24"><circle cx="12" cy="12" r="11" fill="#fbbc04"/><path d="M12 12 L2.5 6.5 A11 11 0 0 1 21.5 6.5 Z" fill="#ea4335"/><path d="M12 12 L2.5 6.5 A11 11 0 0 0 12 23 L17 14 Z" fill="#34a853"/><path d="M12 6.6 H21.6 A11 11 0 0 1 12 23 L17 14.6Z" fill="#fbbc04"/><circle cx="12" cy="12" r="5.2" fill="#fff"/><circle cx="12" cy="12" r="4.1" fill="#4285f4"/></svg>
<div class="abs" style="left:913.5px;top:683px;width:12.5px;height:12.5px;border-radius:50%;background:#1c1c1f;border:1.1px solid #e6e6e6;z-index:23"></div>
<svg class="abs" style="left:913.5px;top:683px;z-index:24" width="12.5" height="12.5" viewBox="0 0 12.5 12.5"><circle cx="6.25" cy="5" r="1.8" fill="none" stroke="#e6e6e6" stroke-width="0.9"/><path d="M3 9.6 Q6.25 6.4 9.5 9.6" fill="none" stroke="#e6e6e6" stroke-width="0.9"/></svg>
<div class="abs" style="left:904px;top:712.3px;width:15px;height:2.8px;border-radius:2px;background:#f47d5e;z-index:22"></div>

<!-- tray -->
<svg class="abs" style="left:1047px;top:692px;z-index:21" width="12" height="10" viewBox="0 0 12 10"><path d="M1.6 7.4 L6 3 L10.4 7.4" fill="none" stroke="#f0f0f0" stroke-width="1.5" stroke-linecap="round" stroke-linejoin="round"/></svg>
<svg class="abs" style="left:1074px;top:688px;z-index:21" width="18" height="18" viewBox="0 0 18 18"><path d="M2.6 9 A6 6 0 0 1 13.6 5" fill="none" stroke="#f0f0f0" stroke-width="1.3" stroke-linecap="round"/><path d="M14.6 1.8 V5.6 H10.8" fill="none" stroke="#f0f0f0" stroke-width="1.3" stroke-linecap="round" stroke-linejoin="round"/><path d="M3 16 V12.4 H6.6" fill="none" stroke="#f0f0f0" stroke-width="1.3" stroke-linecap="round" stroke-linejoin="round"/><path d="M3.6 13 A6 6 0 0 0 8 15" fill="none" stroke="#f0f0f0" stroke-width="1.3" stroke-linecap="round"/><circle cx="12.6" cy="13.4" r="4" fill="#fb9a0a"/></svg>
<svg class="abs" style="left:1104px;top:690px;z-index:21" width="18" height="15" viewBox="0 0 18 15"><path d="M4.4 12.6 A3.3 3.3 0 0 1 4.2 6 A4.6 4.6 0 0 1 13 5.4 A3.6 3.6 0 0 1 13.6 12.6 Z" fill="#8a8a8c"/><path d="M3 1.6 L15.4 13.6" stroke="#1c1c1f" stroke-width="2.6"/><path d="M3 1.6 L15.4 13.6" stroke="#a8a8aa" stroke-width="1.1" stroke-linecap="round"/></svg>
<svg class="abs" style="left:1135px;top:690px;z-index:21" width="16" height="13" viewBox="0 0 16 13"><path d="M1 4.8 Q8 -1.4 15 4.8" fill="none" stroke="#f0f0f0" stroke-width="1.3" stroke-linecap="round"/><path d="M3.2 7.2 Q8 3 12.8 7.2" fill="none" stroke="#f0f0f0" stroke-width="1.3" stroke-linecap="round"/><path d="M5.4 9.4 Q8 7.2 10.6 9.4" fill="none" stroke="#f0f0f0" stroke-width="1.3" stroke-linecap="round"/><circle cx="8" cy="11.4" r="1.1" fill="#f0f0f0"/></svg>
<svg class="abs" style="left:1158px;top:690px;z-index:21" width="16" height="14" viewBox="0 0 16 14"><path d="M1 5 H3.6 L7.4 1.6 V12.4 L3.6 9 H1 Z" fill="none" stroke="#f0f0f0" stroke-width="1.2" stroke-linejoin="round"/><path d="M9.6 4.6 Q11 7 9.6 9.4" fill="none" stroke="#f0f0f0" stroke-width="1.1" stroke-linecap="round"/><path d="M11.6 3 Q13.8 7 11.6 11" fill="none" stroke="#bdbdbd" stroke-width="1.1" stroke-linecap="round"/><path d="M13.6 1.6 Q16.4 7 13.6 12.4" fill="none" stroke="#777" stroke-width="1" stroke-linecap="round"/></svg>
<svg class="abs" style="left:1180px;top:689px;z-index:21" width="16" height="14" viewBox="0 0 16 14"><rect x="0.8" y="4" width="12.4" height="8.6" rx="2" fill="none" stroke="#f0f0f0" stroke-width="1.2"/><path d="M14.6 6.6 V10" stroke="#f0f0f0" stroke-width="1.4" stroke-linecap="round"/><rect x="2.6" y="5.8" width="6.4" height="5" rx="0.6" fill="#f0f0f0"/><path d="M8.6 0.6 L5.4 5.4 H8 L6.6 9 L10.6 3.8 H8 Z" fill="#f0f0f0" stroke="#1c1c1f" stroke-width="0.7"/></svg>
<div class="abs" style="left:1190px;top:683px;width:73px;text-align:right;z-index:21;font-size:10.9px;color:#f2f2f2;line-height:14px;white-space:nowrap">4:21 PM</div>
<div class="abs" style="left:1190px;top:698px;width:73px;text-align:right;z-index:21;font-size:11.5px;color:#f2f2f2;line-height:14px;white-space:nowrap">4/28/2025</div>
<!--TASKBAR-->

</div>
</body>
</html>
